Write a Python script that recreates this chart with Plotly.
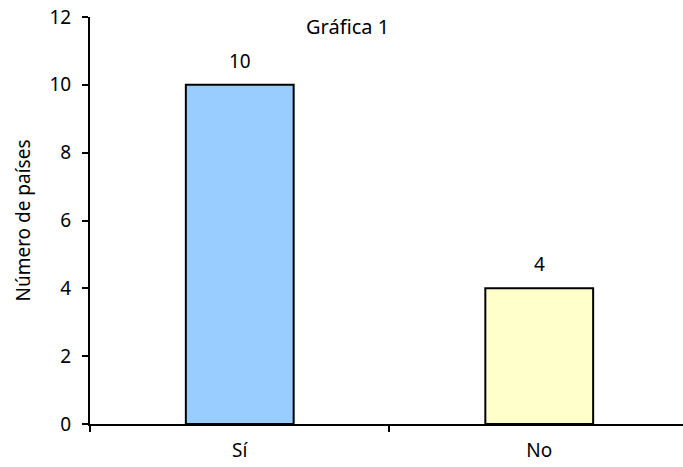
import plotly.graph_objects as go

categories = ["Sí", "No"]
values = [10, 4]
colors = ["#99CCFF", "#FFFFCC"]
y_ticks = [0, 2, 4, 6, 8, 10, 12]
title_text = "Gráfica 1"
y_title = "Número de países"

FONT = "Noto Sans"
FS = 19

fig = go.Figure()
fig.add_trace(go.Bar(
    x=categories, y=values,
    marker=dict(color=colors, line=dict(color="black", width=2)),
    width=0.36,
    hoverinfo="skip",
))
for c, v in zip(categories, values):
    fig.add_annotation(x=c, y=v, text=str(v), showarrow=False,
                       yanchor="bottom", yshift=9,
                       font=dict(family=FONT, size=FS, color="black"))

fig.add_annotation(xref="x domain", yref="y domain",
                   x=(347 - 90) / 593, y=1 - (27 - 17) / 407,
                   text=title_text, showarrow=False,
                   xanchor="center", yanchor="middle",
                   font=dict(family=FONT, size=20, color="black"))

fig.update_layout(
    width=683, height=467,
    margin=dict(l=90, r=0, t=17, b=43, autoexpand=False),
    plot_bgcolor="white", paper_bgcolor="white",
    showlegend=False,
    font=dict(family=FONT, size=FS, color="black"),
    xaxis=dict(
        type="category", range=[-0.5, 1.48],
        showline=True, linecolor="black", linewidth=2,
        ticks="outside", tickson="boundaries", ticklen=6, tickwidth=2, tickcolor="black",
        ticklabelstandoff=8,
        showgrid=False, zeroline=False,
        tickfont=dict(family=FONT, size=FS, color="black"),
    ),
    yaxis=dict(
        range=[0, 12.0001], tickmode="array", tickvals=y_ticks,
        ticktext=[str(t) for t in y_ticks],
        ticklabeloverflow="allow",
        showline=True, linecolor="black", linewidth=2,
        ticks="outside", ticklen=6, tickwidth=2, tickcolor="black",
        ticklabelstandoff=7,
        showgrid=False, zeroline=False,
        tickfont=dict(family=FONT, size=FS, color="black"),
        title=dict(text=y_title, font=dict(family=FONT, size=FS, color="black"), standoff=14),
    ),
)

fig.write_html("out.html", config={"displayModeBar": False, "staticPlot": True},
               post_script="document.body.style.margin='0';document.body.style.overflow='hidden';")
